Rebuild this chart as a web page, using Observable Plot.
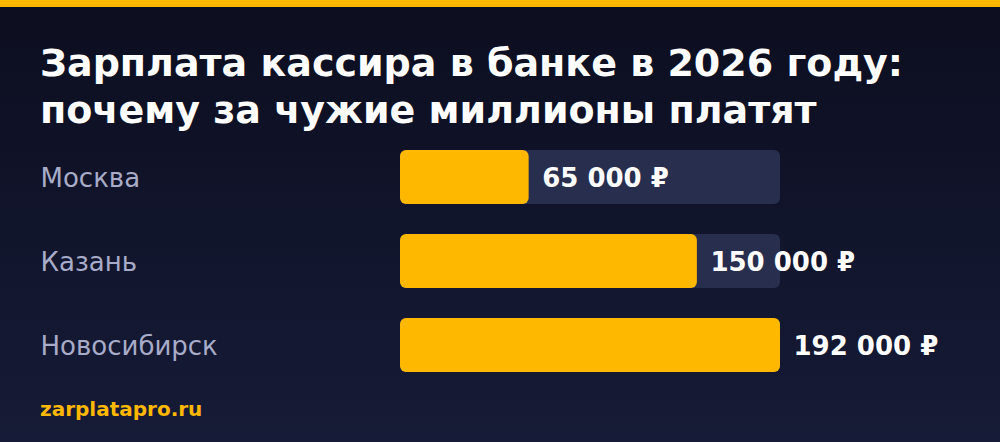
<!DOCTYPE html>
<html>
<head>
<meta charset="utf-8">
<script src="https://cdn.jsdelivr.net/npm/d3@7"></script>
<script src="https://cdn.jsdelivr.net/npm/@observablehq/plot@0.6"></script>
<style>
  html, body { margin: 0; padding: 0; }
  body { width: 1000px; height: 442px; overflow: hidden; position: relative;
         background: linear-gradient(to bottom, #0c0e1f 0%, #161b37 100%);
         font-family: "DejaVu Sans", sans-serif; }
  #topbar { position: absolute; left: 0; top: 0; width: 1000px; height: 7px; background: #ffb800; }
  #title { position: absolute; left: 40px; top: 40px; margin: 0; color: #ffffff;
           font: bold 38px/47px "DejaVu Sans", sans-serif; white-space: nowrap; }
  #chart { position: absolute; left: 0; top: 0; }
  #footer { position: absolute; left: 40px; top: 399px; color: #ffb800;
            font: bold 20px/20px "DejaVu Sans", sans-serif; }
</style>
</head>
<body>
<div id="topbar"></div>
<div id="chart"></div>
<h1 id="title">Зарплата кассира в банке в 2026 году:<br>почему за чужие миллионы платят</h1>
<div id="footer">zarplatapro.ru</div>
<script>
const cities = ["Москва", "Казань", "Новосибирск"];
const salaries = [65000, 150000, 192000];
const valueLabels = ["65 000 ₽", "150 000 ₽", "192 000 ₽"];

const data = cities.map((c, i) => ({city: c, value: salaries[i], label: valueLabels[i]}));
const maxValue = d3.max(salaries);

const chart = Plot.plot({
  width: 1000,
  height: 442,
  marginLeft: 400,
  marginRight: 220,
  marginTop: 120,
  marginBottom: 40,
  style: {background: "transparent", fontFamily: "DejaVu Sans, sans-serif"},
  x: {domain: [0, maxValue], axis: null},
  y: {domain: cities, padding: 0.357, axis: null},
  marks: [
    Plot.barX(data, {y: "city", x: () => maxValue, fill: "#282e4e", rx: 6}),
    Plot.barX(data, {y: "city", x: "value", fill: "#ffb800", rx: 6}),
    Plot.text(data, {y: "city", x: "value", text: "label", dx: 13, dy: 1, textAnchor: "start",
                     fill: "#ffffff", fontSize: 26, fontWeight: "bold"}),
    Plot.text(data, {y: "city", text: "city", frameAnchor: "left", dx: -360, dy: 1, textAnchor: "start",
                     fill: "#a8acc8", fontSize: 26})
  ]
});
document.getElementById("chart").appendChild(chart);
</script>
</body>
</html>
